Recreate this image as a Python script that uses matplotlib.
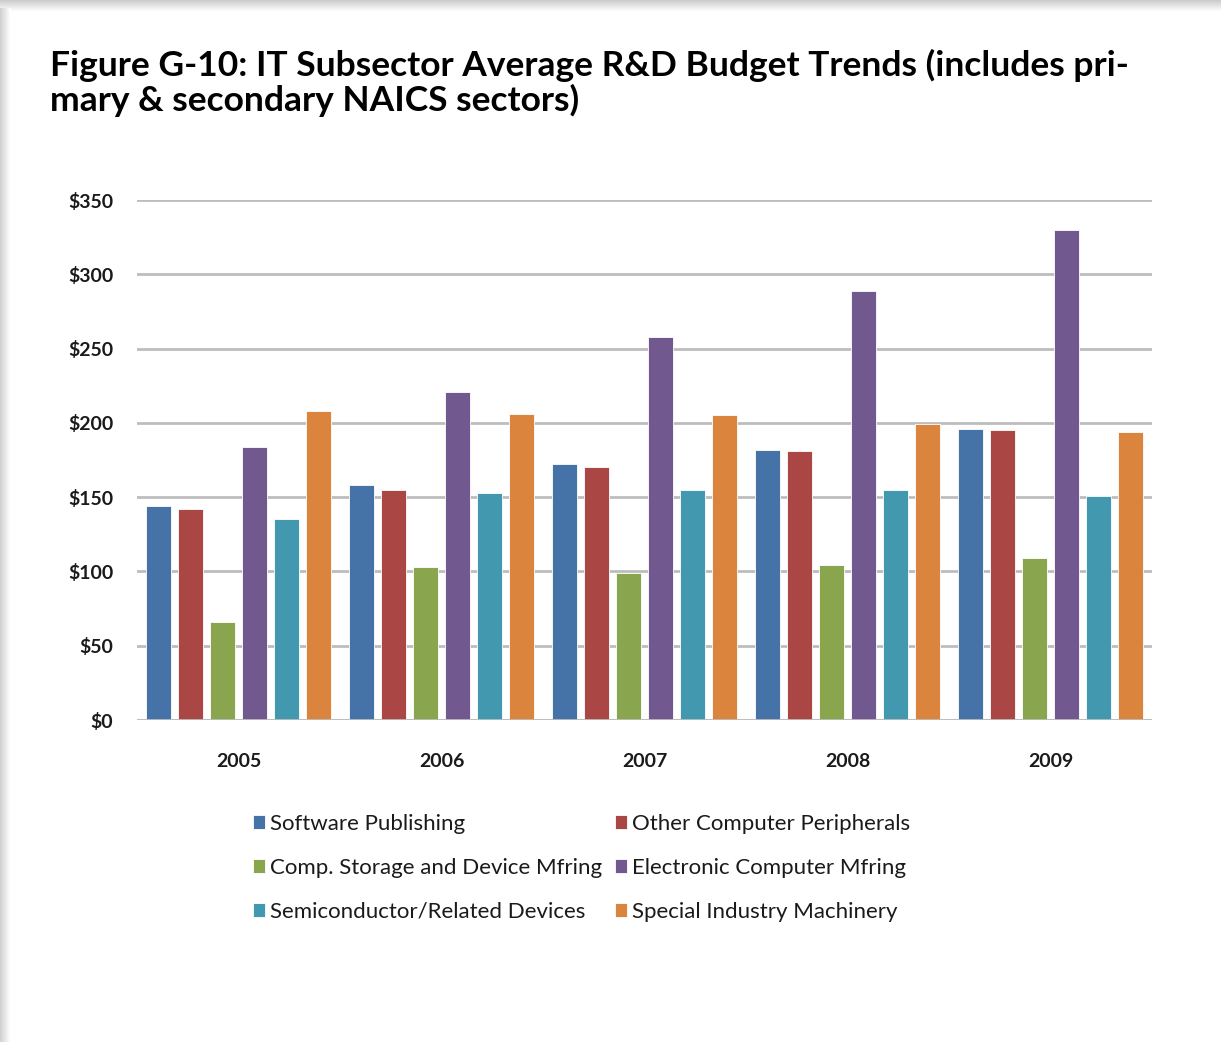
import numpy as np
import matplotlib
matplotlib.use("Agg")
import matplotlib.pyplot as plt
from matplotlib import rcParams

rcParams['font.family'] = ['Lato', 'DejaVu Sans']

years = ["2005", "2006", "2007", "2008", "2009"]
series_names = ["Software Publishing", "Other Computer Peripherals",
                "Comp. Storage and Device Mfring", "Electronic Computer Mfring",
                "Semiconductor/Related Devices", "Special Industry Machinery"]
software = [144, 158, 172, 182, 196]
peripherals = [142, 155, 170, 181, 195]
storage = [66, 103, 99, 104, 109]
electronic = [184, 221, 258, 289, 330]
semiconductor = [135, 153, 155, 155, 151]
machinery = [208, 206, 205, 199, 194]
colors = ["#4572A7", "#AA4643", "#89A54E", "#71588F", "#4198AF", "#DB843D"]
yticks = [0, 50, 100, 150, 200, 250, 300, 350]

values = [software, peripherals, storage, electronic, semiconductor, machinery]

fig = plt.figure(figsize=(12.21, 10.42), dpi=100)
fig.patch.set_facecolor("white")

# page shadow along the top and left edges
bg = fig.add_axes([0, 0, 1, 1], zorder=-10)
bg.set_xlim(0, 1221)
bg.set_ylim(1042, 0)
bg.axis("off")
top_grad = np.linspace(0.80, 1.0, 12).reshape(-1, 1)
bg.imshow(np.repeat(top_grad, 10, axis=1), cmap="gray", vmin=0, vmax=1,
          extent=[0, 1221, 12, 0], aspect="auto")
left_grad = np.linspace(0.82, 1.0, 11).reshape(1, -1)
bg.imshow(np.repeat(left_grad, 10, axis=0), cmap="gray", vmin=0, vmax=1,
          extent=[0, 11, 1042, 8], aspect="auto")

fig.text(50 / 1221, 1 - 49 / 1042,
         "Figure G-10: IT Subsector Average R&D Budget Trends (includes pri-\n"
         "mary & secondary NAICS sectors)",
         ha="left", va="top", fontsize=25.5, fontweight="bold",
         linespacing=1.05, color="black")

ax = fig.add_axes([137 / 1221, 1 - 720 / 1042, 1015 / 1221, 520 / 1042])
x = np.arange(len(years))
pitch = 0.157
width = 0.123
for i, (vals, c, name) in enumerate(zip(values, colors, series_names)):
    ax.bar(x + (i - 2.5) * pitch, vals, width, color=c, edgecolor="white",
           linewidth=0.6, label=name, zorder=3)

ax.set_xlim(-0.5, 4.5)
ax.set_ylim(0, 350)
ax.set_yticks(yticks)
ax.set_yticklabels([f"${v}" for v in yticks])
ax.set_xticks(x)
ax.set_xticklabels(years)
ax.tick_params(axis="both", length=0, labelsize=14, colors="#1a1a1a")
ax.tick_params(axis="y", pad=17)
ax.tick_params(axis="x", pad=24)
for lab in ax.get_xticklabels() + ax.get_yticklabels():
    lab.set_fontweight("bold")
ax.grid(axis="y", color="#bdbdbd", linewidth=2, zorder=0)
for s in ax.spines.values():
    s.set_visible(False)
ax.axhline(0, color="#bdbdbd", linewidth=2, zorder=4)

# legend fills row by row: reorder for matplotlib's column-major layout
handles, labels = ax.get_legend_handles_labels()
order = [0, 2, 4, 1, 3, 5]
leg = fig.legend([handles[k] for k in order], [labels[k] for k in order],
                 ncol=2, loc="upper left",
                 bbox_to_anchor=(244 / 1221, 1 - 805 / 1042),
                 frameon=False, fontsize=16, handlelength=0.55, handleheight=0.55,
                 handletextpad=0.2, columnspacing=0.6, labelspacing=1.08,
                 borderaxespad=0)
for t in leg.get_texts():
    t.set_color("#1a1a1a")

fig.savefig("out.png", dpi=100)
